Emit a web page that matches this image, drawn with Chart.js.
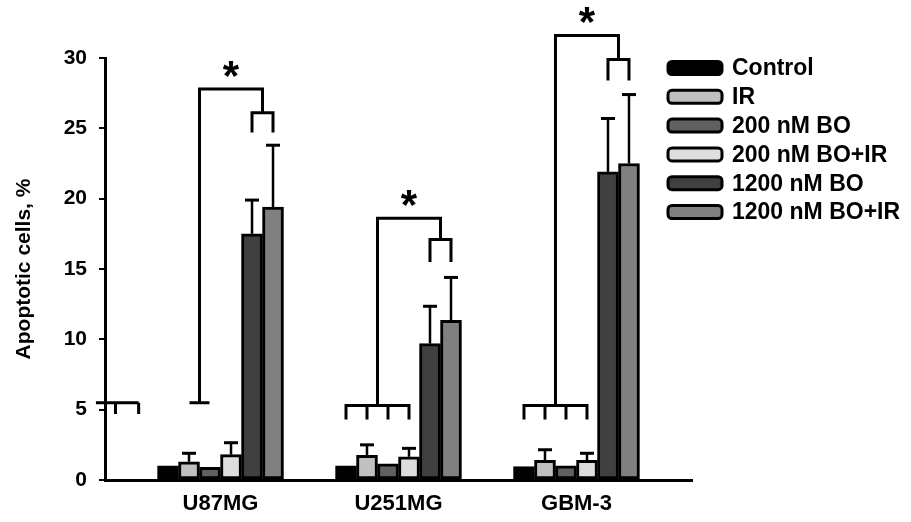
<!DOCTYPE html>
<html lang="en">
<head>
<meta charset="UTF-8">
<title>Apoptotic cells</title>
<script src="https://cdn.jsdelivr.net/npm/chart.js"></script>
<style>
  body { margin: 0; background: #fff; }
  #wrap { width: 911px; height: 522px; }
</style>
</head>
<body>
<div id="wrap"><canvas id="apoChart" width="911" height="522"></canvas></div>
<script>
const cellLines = ['U87MG', 'U251MG', 'GBM-3'];
const treatments = ['Control', 'IR', '200 nM BO', '200 nM BO+IR', '1200 nM BO', '1200 nM BO+IR'];
const fills = ['#000000', '#c0c0c0', '#606060', '#dedede', '#404040', '#808080'];

// mean apoptotic cells, %  (order follows cellLines)
const control  = [1.0, 1.0, 0.95];
const ir       = [1.3, 1.75, 1.4];
const bo200    = [0.9, 1.15, 1.0];
const bo200ir  = [1.8, 1.65, 1.4];
const bo1200   = [17.5, 9.7, 21.9];
const bo1200ir = [19.4, 11.35, 22.5];

// upper end of the error bar, null = none drawn
const controlErr  = [null, null, null];
const irErr       = [1.9, 2.5, 2.15];
const bo200Err    = [null, null, null];
const bo200irErr  = [2.65, 2.25, 1.9];
const bo1200Err   = [19.9, 12.35, 25.7];
const bo1200irErr = [23.8, 14.4, 27.4];

const yTicks = [0, 5, 10, 15, 20, 25, 30];

// significance brackets, in % units
const bracketTop = [27.8, 18.6, 31.6];
const pairLevel  = [26.1, 17.1, 29.9];
const pairLegEnd = [24.7, 15.5, 28.4];
const quadLevel  = [5.5, 5.3, 5.3];
const quadLegEnd = [null, 4.3, 4.3];
// the U87MG group bracket sits off to the left in the original figure (x in group units)
const strayBracketX = [-0.70, -0.46];
const strayLegsX = [-0.59, -0.46];
const strayLegEnd = 4.7;

const seriesValues = [control, ir, bo200, bo200ir, bo1200, bo1200ir];
const seriesErrors = [controlErr, irErr, bo200Err, bo200irErr, bo1200Err, bo1200irErr];

const FONT = 'Arial, "Liberation Sans", sans-serif';
Chart.defaults.font.family = FONT;
Chart.defaults.color = '#000';

const errorBars = {
    id: 'errorBars',
    afterDatasetsDraw(chart) {
        const ctx = chart.ctx;
        const y = chart.scales.y;
        ctx.save();
        ctx.strokeStyle = '#000';
        chart.data.datasets.forEach((ds, i) => {
            const meta = chart.getDatasetMeta(i);
            meta.data.forEach((bar, g) => {
                const top = seriesErrors[i][g];
                if (top === null) return;
                const py = y.getPixelForValue(top);
                ctx.lineWidth = 2.5;
                ctx.beginPath();
                ctx.moveTo(bar.x, bar.y);
                ctx.lineTo(bar.x, py);
                ctx.stroke();
                ctx.lineWidth = 3;
                ctx.beginPath();
                ctx.moveTo(bar.x - 7, py);
                ctx.lineTo(bar.x + 7, py);
                ctx.stroke();
            });
        });
        ctx.restore();
    }
};

const brackets = {
    id: 'brackets',
    afterDatasetsDraw(chart) {
        const ctx = chart.ctx;
        const y = chart.scales.y;
        const x = chart.scales.x;
        const metas = chart.data.datasets.map((d, i) => chart.getDatasetMeta(i).data);
        ctx.save();
        ctx.strokeStyle = '#000';
        ctx.lineWidth = 3;
        ctx.lineJoin = 'miter';
        cellLines.forEach((name, g) => {
            const xs = metas.map(m => m[g].x);
            const leftX = (xs[0] + xs[1] + xs[2] + xs[3]) / 4;
            const rightX = (xs[4] + xs[5]) / 2;
            const top = y.getPixelForValue(bracketTop[g]);
            const pair = y.getPixelForValue(pairLevel[g]);
            const pairEnd = y.getPixelForValue(pairLegEnd[g]);
            const quad = y.getPixelForValue(quadLevel[g]);

            ctx.beginPath();
            ctx.moveTo(leftX, quad);
            ctx.lineTo(leftX, top);
            ctx.lineTo(rightX, top);
            ctx.lineTo(rightX, pair);
            ctx.stroke();

            ctx.beginPath();
            ctx.moveTo(xs[4], pairEnd);
            ctx.lineTo(xs[4], pair);
            ctx.lineTo(xs[5], pair);
            ctx.lineTo(xs[5], pairEnd);
            ctx.stroke();

            ctx.beginPath();
            if (quadLegEnd[g] !== null) {
                const qEnd = y.getPixelForValue(quadLegEnd[g]);
                ctx.moveTo(xs[0], qEnd);
                ctx.lineTo(xs[0], quad);
                ctx.lineTo(xs[3], quad);
                ctx.lineTo(xs[3], qEnd);
                ctx.moveTo(xs[1], quad);
                ctx.lineTo(xs[1], qEnd);
                ctx.moveTo(xs[2], quad);
                ctx.lineTo(xs[2], qEnd);
            } else {
                ctx.moveTo(leftX - 10, quad);
                ctx.lineTo(leftX + 10, quad);
                const sy = quad;
                const se = y.getPixelForValue(strayLegEnd);
                ctx.moveTo(x.getPixelForValue(strayBracketX[0]), sy);
                ctx.lineTo(x.getPixelForValue(strayBracketX[1]), sy);
                strayLegsX.forEach(v => {
                    ctx.moveTo(x.getPixelForValue(v), sy);
                    ctx.lineTo(x.getPixelForValue(v), se);
                });
            }
            ctx.stroke();

            // star
            ctx.font = 'bold 42px ' + FONT;
            ctx.fillStyle = '#000';
            ctx.textAlign = 'center';
            ctx.textBaseline = 'alphabetic';
            const m = ctx.measureText('*');
            const cy = top - 20;
            ctx.fillText('*', (leftX + rightX) / 2, cy + (m.actualBoundingBoxAscent - m.actualBoundingBoxDescent) / 2);
        });
        ctx.restore();
    }
};

const sideLegend = {
    id: 'sideLegend',
    afterDraw(chart) {
        const ctx = chart.ctx;
        ctx.save();
        ctx.font = 'bold 23px ' + FONT;
        ctx.textAlign = 'left';
        ctx.textBaseline = 'middle';
        treatments.forEach((t, i) => {
            const cy = 68 + i * 28.8;
            ctx.beginPath();
            if (ctx.roundRect) ctx.roundRect(668, cy - 6.5, 54, 13, 4);
            else ctx.rect(668, cy - 6.5, 54, 13);
            ctx.fillStyle = fills[i];
            ctx.fill();
            ctx.lineWidth = 3;
            ctx.strokeStyle = '#000';
            ctx.stroke();
            ctx.fillStyle = '#000';
            ctx.fillText(t, 732, cy + 1);
        });
        ctx.restore();
    }
};

const ctx = document.getElementById('apoChart').getContext('2d');
const chart = new Chart(ctx, {
    type: 'bar',
    data: {
        datasets: treatments.map((t, i) => ({
            label: t,
            data: cellLines.map((c, g) => ({ x: g, y: seriesValues[i][g] })),
            backgroundColor: fills[i],
            borderColor: '#000',
            borderWidth: 3,
            borderSkipped: false,
            barThickness: 21
        }))
    },
    options: {
        responsive: false,
        animation: false,
        layout: { padding: { top: 58, right: 219, bottom: 0, left: 0 } },
        plugins: {
            legend: { display: false },
            tooltip: { enabled: false }
        },
        scales: {
            x: {
                type: 'linear',
                min: -0.649,
                max: 2.649,
                offset: false,
                grid: { display: false, drawTicks: false },
                border: { display: true, color: '#000', width: 3 },
                afterBuildTicks: (scale) => { scale.ticks = cellLines.map((c, g) => ({ value: g })); },
                afterFit: (scale) => { scale.height = 42; },
                ticks: {
                    font: { size: 22, weight: 'bold' },
                    color: '#000',
                    padding: 11,
                    maxRotation: 0,
                    autoSkip: false,
                    callback: (v) => cellLines[v] ?? ''
                }
            },
            y: {
                min: 0,
                max: 30,
                afterBuildTicks: (scale) => { scale.ticks = yTicks.map(v => ({ value: v })); },
                afterFit: (scale) => { scale.width = 105; },
                grid: { drawOnChartArea: false, drawTicks: true, tickLength: 6, color: '#000', lineWidth: 2 },
                border: { display: true, color: '#000', width: 3 },
                ticks: {
                    font: { size: 21, weight: 'bold' },
                    color: '#000',
                    padding: 12
                },
                title: {
                    display: true,
                    text: 'Apoptotic cells, %',
                    font: { size: 21, weight: 'bold' },
                    color: '#000',
                    padding: { top: 12, bottom: 0 }
                }
            }
        }
    },
    plugins: [errorBars, brackets, sideLegend]
});
</script>
</body>
</html>
